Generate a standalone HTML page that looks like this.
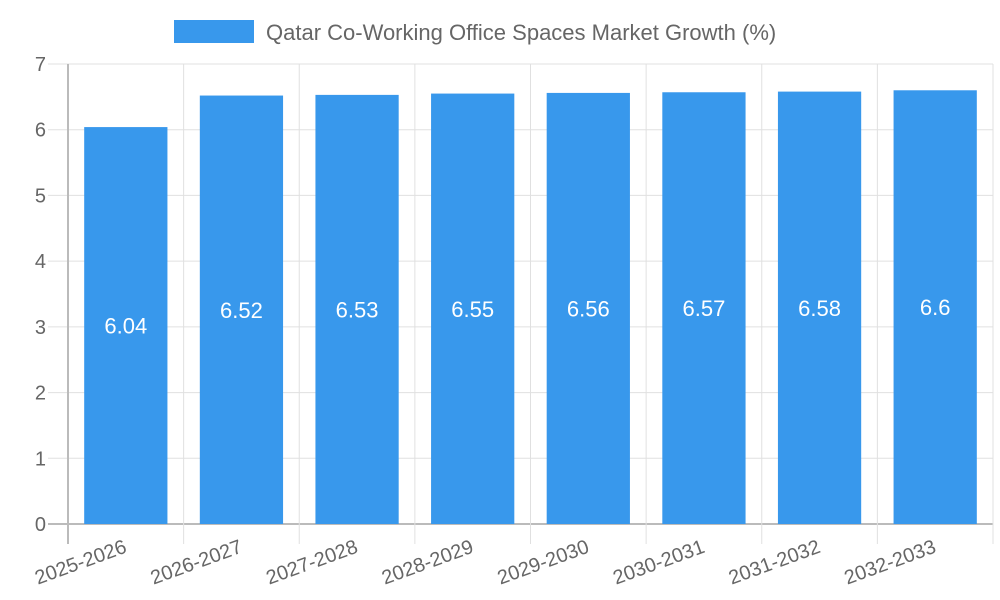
<!DOCTYPE html>
<html><head><meta charset="utf-8"><style>
body{margin:0;background:#fff;}
svg{display:block;font-family:"Liberation Sans",sans-serif;}
</style></head><body>
<svg id="chart" width="1000" height="600">
<rect x="174" y="20" width="80" height="23" fill="#3898ec"/>
<text x="266" y="40" font-size="22" fill="#666">Qatar Co-Working Office Spaces Market Growth (%)</text>
<g id="grid"></g><g id="bars"></g><g id="axes"></g>
</svg>
<script>
const categories=["2025-2026","2026-2027","2027-2028","2028-2029","2029-2030","2030-2031","2031-2032","2032-2033"];
const values=[6.04,6.52,6.53,6.55,6.56,6.57,6.58,6.6];
const yTicks=[0,1,2,3,4,5,6,7];
const NS="http://www.w3.org/2000/svg";
const L=68,R=993,T=64,B=524,yMax=7;
const y=v=>B-(B-T)*v/yMax;
const bw=(R-L)/categories.length;
const x=i=>L+bw*i;
function mk(p,tag,a,txt){const e=document.createElementNS(NS,tag);for(const k in a)e.setAttribute(k,a[k]);if(txt!==undefined)e.textContent=txt;p.appendChild(e);return e;}
const g=document.getElementById('grid'),b=document.getElementById('bars'),ax=document.getElementById('axes');
yTicks.forEach(t=>{
 const ln=mk(g,'line',{x1:48,x2:R,y1:y(t),y2:y(t),stroke:t===0?'#bbb':'#e0e0e0','stroke-width':t===0?2:1});
 
 
 const tx=mk(ax,'text',{x:46,y:y(t)+7,'font-size':20,fill:'#666','text-anchor':'end'},String(t));
 
 
});
for(let i=0;i<=categories.length;i++){
 const ln=mk(g,'line',{x1:x(i),x2:x(i),y1:T,y2:B+20,stroke:i===0?'#bbb':'#e0e0e0','stroke-width':i===0?2:1});
 
 
}
categories.forEach((c,i)=>{
 const cx=x(i)+bw/2,w=bw*0.72,v=values[i];
 const r=mk(b,'rect',{x:cx-w/2,y:y(v),width:w,height:B-y(v),fill:'#3898ec'});
 
 
 const t=mk(b,'text',{x:cx,y:(y(v)+B)/2+8,'font-size':22,fill:'#fff','text-anchor':'middle'},String(v));
 
 
 const lt=mk(ax,'text',{x:cx+2,y:B+28,'font-size':20,fill:'#666','text-anchor':'end',transform:`rotate(-20 ${cx+2} ${B+28})`},c);
 
 
});
</script>
</body></html>
